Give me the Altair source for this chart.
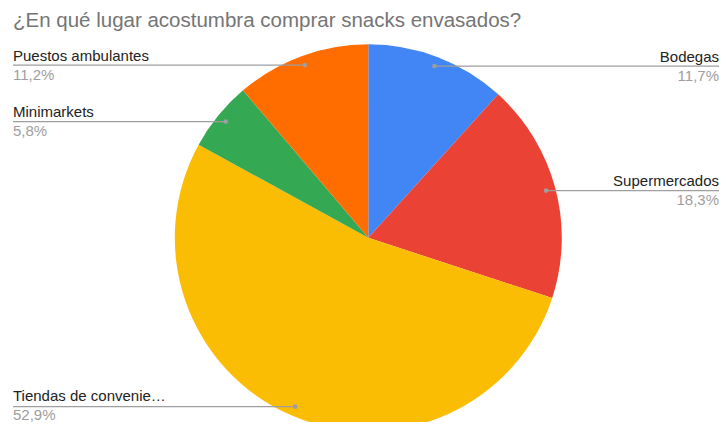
import math
import altair as alt
import pandas as pd

# ---- data ----
categories = ["Bodegas", "Supermercados", "Tiendas de convenie…", "Minimarkets", "Puestos ambulantes"]
values = [11.7, 18.3, 52.9, 5.8, 11.2]
pct_labels = ["11,7%", "18,3%", "52,9%", "5,8%", "11,2%"]
colors = ["#4285F4", "#EA4335", "#FBBC04", "#34A853", "#FF6D01"]
sides = ["right", "right", "left", "left", "left"]
title_text = "¿En qué lugar acostumbra comprar snacks envasados?"

# ---- layout ----
W, H = 711, 414
CX, CY, R = 360.3, 229.8, 193.5
R_DOT = 184
LEFT_X, RIGHT_X = 5, 711
FONT = "Liberation Sans"
TEXT_Y_MAX = H - 17

total = sum(values)
rows = []
cum = 0.0
for i, (c, v, p, s) in enumerate(zip(categories, values, pct_labels, sides)):
    mid = (cum + v / 2) / total * 2 * math.pi
    cum += v
    dx = CX + R_DOT * math.sin(mid)
    dy = CY - R_DOT * math.cos(mid)
    rows.append({
        "cat": c, "value": v, "pct": p, "order": i, "side": s,
        "dot_x": dx, "dot_y": dy, "text_y": min(dy, TEXT_Y_MAX),
        "edge_x": LEFT_X if s == "left" else RIGHT_X,
    })
df = pd.DataFrame(rows)

pie = alt.Chart(df).mark_arc(radius=R).encode(
    theta=alt.Theta("value:Q", stack=True),
    order=alt.Order("order:Q"),
    color=alt.Color("cat:N", scale=alt.Scale(domain=categories, range=colors), legend=None),
    x=alt.value(CX),
    y=alt.value(CY),
)

X = lambda f: alt.X(f, scale=None, axis=None)
Y = lambda f: alt.Y(f, scale=None, axis=None)

lines = alt.Chart(df).mark_rule(color="#9E9E9E", strokeWidth=1.3).encode(
    x=X("dot_x:Q"), x2="edge_x:Q", y=Y("dot_y:Q")
)
dots = alt.Chart(df).mark_circle(color="#9E9E9E", size=22, opacity=1).encode(
    x=X("dot_x:Q"), y=Y("dot_y:Q")
)

left = df[df.side == "left"]
right = df[df.side == "right"]

def texts(d, align):
    lab = alt.Chart(d).mark_text(align=align, baseline="alphabetic", dy=-4.5, font=FONT,
                                 fontSize=15, color="#222222").encode(
        x=X("edge_x:Q"), y=Y("text_y:Q"), text="cat:N")
    pct = alt.Chart(d).mark_text(align=align, baseline="alphabetic", dy=14.5, font=FONT,
                                 fontSize=15, color="#9E9E9E").encode(
        x=X("edge_x:Q"), y=Y("text_y:Q"), text="pct:N")
    return lab + pct

title_df = pd.DataFrame({"t": [title_text], "x": [LEFT_X], "y": [18.5]})
title = alt.Chart(title_df).mark_text(align="left", baseline="alphabetic", font=FONT,
                                      fontSize=20.5, color="#757575").encode(
    x=X("x:Q"), y=Y("y:Q"), text="t:N")

chart = alt.layer(pie, lines, dots, texts(left, "left"), texts(right, "right"), title).properties(
    width=W, height=H, autosize=alt.AutoSizeParams(type="none"), padding=0,
    background="white"
).configure_view(stroke=None)

chart.save("out.html", embed_options={"renderer": "svg", "actions": False})
